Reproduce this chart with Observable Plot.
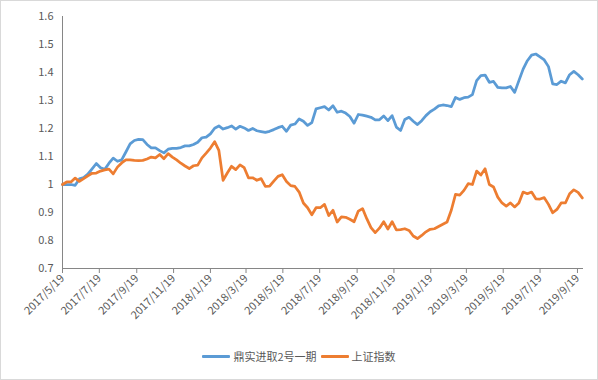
<!DOCTYPE html>
<html><head><meta charset="utf-8">
<script src="https://cdn.jsdelivr.net/npm/d3@7"></script>
<script src="https://cdn.jsdelivr.net/npm/@observablehq/plot@0.6"></script>
<style>
body{margin:0;background:#fff;font-family:"Noto Sans CJK SC","Liberation Sans",sans-serif;}
#wrap{position:relative;width:598px;height:380px;overflow:hidden;background:#fff}
#frame{position:absolute;left:0;top:0;width:598px;height:380px;box-sizing:border-box;border:1px solid #d9d9d9;pointer-events:none}
#chart{position:absolute;left:0;top:0}
#legend{position:absolute;top:348px;left:0;width:598px;display:flex;justify-content:center;align-items:center;font-size:11px;color:#595959;line-height:16px}
.item{display:flex;align-items:center;margin:0 2px}
.sw{display:inline-block;width:28px;height:3px;margin-right:3px;border-radius:1px}
</style></head>
<body>
<div id="wrap"><div id="chart"></div><div id="legend"></div><div id="frame"></div></div>
<script>
const seriesNames = ["鼎实进取2号一期", "上证指数"];
const seriesColors = ["#5B9BD5", "#ED7D31"];
const dates = [
"2017-05-19","2017-05-26","2017-06-02","2017-06-09","2017-06-16","2017-06-23","2017-06-30","2017-07-07","2017-07-14","2017-07-21",
"2017-07-28","2017-08-04","2017-08-11","2017-08-18","2017-08-25","2017-09-01","2017-09-08","2017-09-15","2017-09-22","2017-09-29",
"2017-10-06","2017-10-13","2017-10-20","2017-10-27","2017-11-03","2017-11-10","2017-11-17","2017-11-24","2017-12-01","2017-12-08",
"2017-12-15","2017-12-22","2017-12-29","2018-01-05","2018-01-12","2018-01-19","2018-01-26","2018-02-02","2018-02-09","2018-02-16",
"2018-02-23","2018-03-02","2018-03-09","2018-03-16","2018-03-23","2018-03-30","2018-04-06","2018-04-13","2018-04-20","2018-04-27",
"2018-05-04","2018-05-11","2018-05-18","2018-05-25","2018-06-01","2018-06-08","2018-06-15","2018-06-22","2018-06-29","2018-07-06",
"2018-07-13","2018-07-20","2018-07-27","2018-08-03","2018-08-10","2018-08-17","2018-08-24","2018-08-31","2018-09-07","2018-09-14",
"2018-09-21","2018-09-28","2018-10-05","2018-10-12","2018-10-19","2018-10-26","2018-11-02","2018-11-09","2018-11-16","2018-11-23",
"2018-11-30","2018-12-07","2018-12-14","2018-12-21","2018-12-28","2019-01-04","2019-01-11","2019-01-18","2019-01-25","2019-02-01",
"2019-02-08","2019-02-15","2019-02-22","2019-03-01","2019-03-08","2019-03-15","2019-03-22","2019-03-29","2019-04-05","2019-04-12",
"2019-04-19","2019-04-26","2019-05-03","2019-05-10","2019-05-17","2019-05-24","2019-05-31","2019-06-07","2019-06-14","2019-06-21",
"2019-06-28","2019-07-05","2019-07-12","2019-07-19","2019-07-26","2019-08-02","2019-08-09","2019-08-16","2019-08-23","2019-08-30",
"2019-09-06","2019-09-13","2019-09-20","2019-09-27"];
const fund = [
1.000,1.000,1.000,0.997,1.020,1.025,1.037,1.056,1.075,1.060,
1.054,1.076,1.094,1.083,1.088,1.116,1.145,1.157,1.161,1.160,
1.143,1.131,1.131,1.121,1.113,1.126,1.129,1.129,1.132,1.138,
1.138,1.143,1.151,1.167,1.169,1.181,1.201,1.209,1.198,1.203,
1.209,1.198,1.208,1.202,1.193,1.200,1.192,1.189,1.186,1.190,
1.196,1.203,1.208,1.190,1.212,1.216,1.234,1.226,1.211,1.221,
1.270,1.274,1.278,1.266,1.281,1.258,1.262,1.255,1.243,1.219,
1.250,1.248,1.244,1.240,1.231,1.231,1.245,1.228,1.246,1.205,
1.193,1.232,1.240,1.226,1.214,1.228,1.246,1.260,1.269,1.281,
1.284,1.282,1.278,1.311,1.304,1.310,1.312,1.321,1.371,1.389,
1.391,1.365,1.368,1.347,1.345,1.345,1.350,1.329,1.371,1.412,
1.442,1.462,1.466,1.456,1.445,1.421,1.359,1.357,1.369,1.363,
1.392,1.404,1.392,1.377];
const sse = [
1.000,1.009,1.009,1.023,1.011,1.021,1.031,1.040,1.041,1.048,
1.052,1.055,1.038,1.062,1.077,1.088,1.088,1.086,1.085,1.086,
1.091,1.098,1.095,1.107,1.092,1.110,1.098,1.088,1.076,1.066,
1.057,1.067,1.069,1.095,1.112,1.130,1.153,1.122,1.015,1.041,
1.065,1.053,1.070,1.060,1.024,1.024,1.015,1.021,0.993,0.994,
1.012,1.029,1.035,1.011,0.996,0.993,0.973,0.934,0.917,0.892,
0.917,0.917,0.929,0.889,0.908,0.866,0.884,0.883,0.876,0.867,
0.905,0.914,0.878,0.846,0.828,0.844,0.867,0.841,0.867,0.838,
0.839,0.842,0.836,0.816,0.807,0.818,0.831,0.840,0.842,0.850,
0.858,0.866,0.908,0.965,0.962,0.979,1.003,1.000,1.048,1.034,
1.056,1.000,0.991,0.955,0.934,0.923,0.934,0.920,0.934,0.973,
0.967,0.973,0.949,0.948,0.953,0.929,0.899,0.911,0.934,0.934,
0.967,0.981,0.972,0.952];
const xTickLabels = ["2017-05-19","2017-07-19","2017-09-19","2017-11-19","2018-01-19","2018-03-19","2018-05-19","2018-07-19","2018-09-19","2018-11-19","2019-01-19","2019-03-19","2019-05-19","2019-07-19","2019-09-19"];
const yTicks = [0.7,0.8,0.9,1.0,1.1,1.2,1.3,1.4,1.5,1.6];
const xDomain = ["2017-05-19","2019-09-29"];

const fundRows = dates.map((d,i)=>({date:new Date(d), value:fund[i]}));
const sseRows = dates.map((d,i)=>({date:new Date(d), value:sse[i]}));
const fmt = d3.utcFormat("%Y/%-m/%-d");

const chart = Plot.plot({
  width:598, height:340,
  marginLeft:62, marginTop:16, marginBottom:72, marginRight:15,
  style:{fontFamily:'"Noto Sans CJK SC","Liberation Sans",sans-serif', fontSize:"11px", color:"#595959", background:"transparent"},
  x:{type:"utc", domain:xDomain.map(d=>new Date(d))},
  y:{domain:[0.7,1.6]},
  marks:[
    Plot.axisY({ticks:yTicks, tickSize:0, tickPadding:9, tickFormat:d=>String(d), label:null}),
    Plot.axisX({ticks:xTickLabels.map(d=>new Date(d)), tickFormat:fmt, tickRotate:-45, tickSize:5, tickPadding:3, label:null, stroke:"#868686"}),
    Plot.ruleX([new Date(xDomain[0])], {stroke:"#868686", strokeWidth:1}),
    Plot.ruleY([0.7], {stroke:"#868686", strokeWidth:1}),
    Plot.line(fundRows, {x:"date", y:"value", stroke:seriesColors[0], strokeWidth:2.75, strokeLinejoin:"round", strokeLinecap:"round"}),
    Plot.line(sseRows, {x:"date", y:"value", stroke:seriesColors[1], strokeWidth:2.75, strokeLinejoin:"round", strokeLinecap:"round"})
  ]
});
document.getElementById("chart").appendChild(chart);

const legend = document.getElementById("legend");
seriesNames.forEach((n,i)=>{
  const it = document.createElement("span"); it.className="item";
  const sw = document.createElement("span"); sw.className="sw"; sw.style.background=seriesColors[i];
  it.appendChild(sw); it.appendChild(document.createTextNode(n));
  legend.appendChild(it);
});
</script>
</body></html>
